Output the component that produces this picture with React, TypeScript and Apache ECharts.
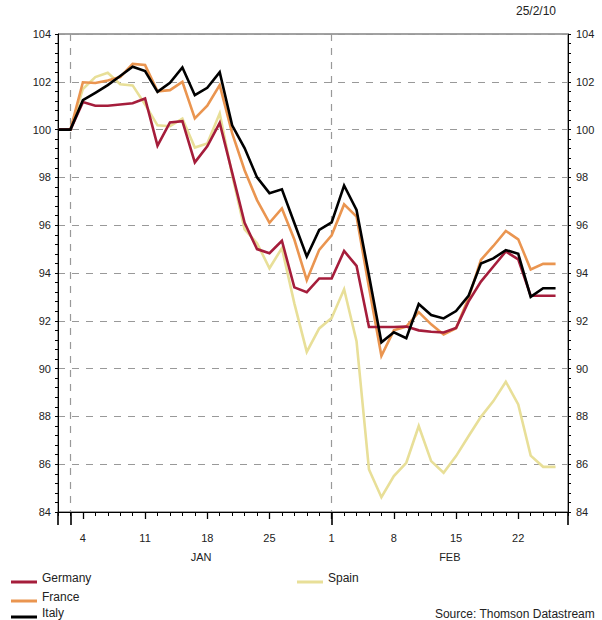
import React, { useEffect, useRef } from "react";
import * as echarts from "echarts";

const dates = [
  "2009-12-31", "2010-01-01",
  "2010-01-04", "2010-01-05", "2010-01-06", "2010-01-07", "2010-01-08",
  "2010-01-11", "2010-01-12", "2010-01-13", "2010-01-14", "2010-01-15",
  "2010-01-18", "2010-01-19", "2010-01-20", "2010-01-21", "2010-01-22",
  "2010-01-25", "2010-01-26", "2010-01-27", "2010-01-28", "2010-01-29",
  "2010-02-01", "2010-02-02", "2010-02-03", "2010-02-04", "2010-02-05",
  "2010-02-08", "2010-02-09", "2010-02-10", "2010-02-11", "2010-02-12",
  "2010-02-15", "2010-02-16", "2010-02-17", "2010-02-18", "2010-02-19",
  "2010-02-22", "2010-02-23", "2010-02-24", "2010-02-25", "2010-02-26",
];

const germany = [
  100, 100, 101.15, 101.0, 101.0, 101.05, 101.1, 101.3, 99.33, 100.3, 100.35,
  98.63, 99.3, 100.28, 98.2, 96.1, 95.0, 94.83, 95.35, 93.4, 93.2,
  93.77, 93.77, 94.92, 94.3, 91.74, 91.74, 91.74, 91.76, 91.6, 91.54,
  91.51, 91.7, 92.8, 93.64, 94.27, 94.9, 94.57, 93.05, 93.05, 93.05,
];
const france = [
  100, 100, 101.98, 101.95, 102.05, 102.2, 102.75, 102.7, 101.6, 101.65, 102.0,
  100.47, 101.0, 101.86, 99.85, 98.3, 97.05, 96.1, 96.7, 95.4, 93.7,
  94.97, 95.58, 96.87, 96.36, 93.4, 90.53, 91.6, 91.76, 92.36, 91.85,
  91.43, 91.69, 92.94, 94.55, 95.13, 95.76, 95.41, 94.15, 94.38, 94.38,
];
const italy = [
  100, 100, 101.23, 101.54, 101.86, 102.24, 102.63, 102.45, 101.58, 101.96, 102.6,
  101.44, 101.75, 102.4, 100.18, 99.23, 98.0, 97.34, 97.5, 96.09, 94.69,
  95.8, 96.12, 97.66, 96.64, 93.9, 91.1, 91.52, 91.27, 92.7, 92.24,
  92.1, 92.41, 93.04, 94.4, 94.61, 94.96, 94.8, 93.0, 93.36, 93.36,
];
const spain = [
  100, 100, 101.7, 102.2, 102.38, 101.9, 101.85, 101.05, 100.18, 100.14, 100.46,
  99.25, 99.42, 100.68, 98.1, 95.83, 95.25, 94.2, 95.04, 92.73, 90.7,
  91.68, 92.12, 93.32, 91.15, 85.78, 84.62, 85.5, 86.06, 87.6, 86.13,
  85.64, 86.34, 87.17, 87.98, 88.64, 89.45, 88.5, 86.36, 85.89, 85.89,
];

const monthLabels = ["JAN", "FEB"];
const monthCenters = [11.5, 31.5];
const dateStamp = "25/2/10";
const sourceText = "Source: Thomson Datastream";

const FONT = "'Liberation Sans', Arial, sans-serif";
const TEXT = "#222";

const isMonday = (d: string) => new Date(d + "T00:00:00Z").getUTCDay() === 1;
const monthOf = (i: number) => dates[i].slice(5, 7);
const isMonthStart = (i: number) => i > 0 && monthOf(i) !== monthOf(i - 1);
const isLongTick = (i: number) => i === 0 || i === dates.length - 1 || isMonthStart(i);

// legend line sitting a little below the text's middle
const LEGEND_ICON = "path://M0,0 L0.01,0 L0.01,0.01 Z M0,8 L26,8 L26,11 L0,11 Z";

export default function App() {
  const ref = useRef<HTMLDivElement>(null);

  useEffect(() => {
    document.body.style.margin = "0";
    if (!ref.current) return;
    const chart = echarts.init(ref.current, null, { renderer: "svg" });

    const grid = { left: 58, right: 34, top: 34, height: 478, show: true, borderColor: "#444", borderWidth: 1 };

    const baseCat = {
      type: "category" as const,
      data: dates,
      boundaryGap: false,
      position: "bottom" as const,
      splitLine: { show: false },
    };

    const lineSeries = (name: string, data: number[], color: string, z: number) => ({
      name,
      type: "line" as const,
      data,
      xAxisIndex: 0,
      yAxisIndex: 0,
      symbol: "none",
      z,
      lineStyle: { color, width: 2.6, join: "miter" },
      itemStyle: { color },
    });

    const yBase = {
      type: "value" as const,
      min: 84,
      max: 104,
      interval: 2,
      axisLine: { show: true, lineStyle: { color: "#000", width: 1 } },
      axisTick: { show: true, length: 3, lineStyle: { color: "#000" } },
      minorTick: { show: true, splitNumber: 5, length: 3, lineStyle: { color: "#000" } },
    };

    const legendItem = (name: string, left: number, top: number) => ({
      data: [name],
      orient: "vertical",
      left,
      top,
      padding: 0,
      itemWidth: 26,
      itemHeight: 11,
      icon: LEGEND_ICON,
      selectedMode: false,
      textStyle: {
        fontSize: 12,
        color: TEXT,
        fontFamily: FONT,
      },
    });

    chart.setOption({
      animation: false,
      textStyle: { fontFamily: FONT },
      title: [
        { text: dateStamp, right: 46, top: 5, padding: 0, textStyle: { fontSize: 12, fontWeight: "normal", color: TEXT, fontFamily: FONT } },
        { text: sourceText, right: 7, top: 608, padding: 0, textStyle: { fontSize: 12, fontWeight: "normal", color: TEXT, fontFamily: FONT } },
      ],
      legend: [
        legendItem("Germany", 11, 572),
        legendItem("France", 11, 591),
        legendItem("Italy", 11, 607),
        legendItem("Spain", 297, 572),
      ],
      grid,
      xAxis: [
        {
          ...baseCat,
          axisLine: { show: true, lineStyle: { color: "#000", width: 1 } },
          axisTick: { show: true, interval: 0, length: 4, lineStyle: { color: "#000" } },
          axisLabel: { show: false },
        },
        {
          ...baseCat,
          axisLine: { show: false },
          axisTick: { show: true, interval: (i: number) => isMonday(dates[i]), length: 7, lineStyle: { color: "#000", width: 1.3 } },
          axisLabel: {
            show: true,
            interval: (i: number) => isMonday(dates[i]),
            formatter: (v: string) => String(Number(v.slice(8, 10))),
            margin: 20,
            fontSize: 11,
            color: TEXT,
            fontFamily: FONT,
          },
        },
        {
          ...baseCat,
          axisLine: { show: false },
          axisTick: { show: true, interval: (i: number) => isLongTick(i), length: 13, lineStyle: { color: "#000", width: 1.6 } },
          axisLabel: { show: false },
          splitLine: {
            show: true,
            interval: (i: number) => isMonthStart(i),
            lineStyle: { color: "#999", width: 1.2, type: [7, 7] },
          },
        },
        {
          type: "value",
          min: 0,
          max: dates.length - 1,
          position: "bottom",
          axisLine: { show: false },
          axisTick: { show: false },
          splitLine: { show: false },
          axisLabel: {
            show: true,
            customValues: monthCenters,
            formatter: (v: number) => monthLabels[monthCenters.indexOf(v)] ?? "",
            margin: 39,
            fontSize: 11,
            color: TEXT,
            fontFamily: FONT,
          },
        },
      ],
      yAxis: [
        {
          ...yBase,
          position: "left",
          axisLabel: { fontSize: 11, color: TEXT, margin: 7, fontFamily: FONT },
          splitLine: { show: true, lineStyle: { color: "#999", width: 1.2, type: [7, 7] } },
        },
        {
          ...yBase,
          position: "right",
          axisLabel: { fontSize: 11, color: TEXT, margin: 8, fontFamily: FONT },
          splitLine: { show: false },
        },
      ],
      series: [
        lineSeries("Spain", spain, "#e8df98", 2),
        lineSeries("France", france, "#ea9550", 3),
        lineSeries("Germany", germany, "#a51d3b", 4),
        lineSeries("Italy", italy, "#000000", 5),
      ],
    });

    return () => chart.dispose();
  }, []);

  return <div ref={ref} style={{ width: 602, height: 620 }} />;
}
